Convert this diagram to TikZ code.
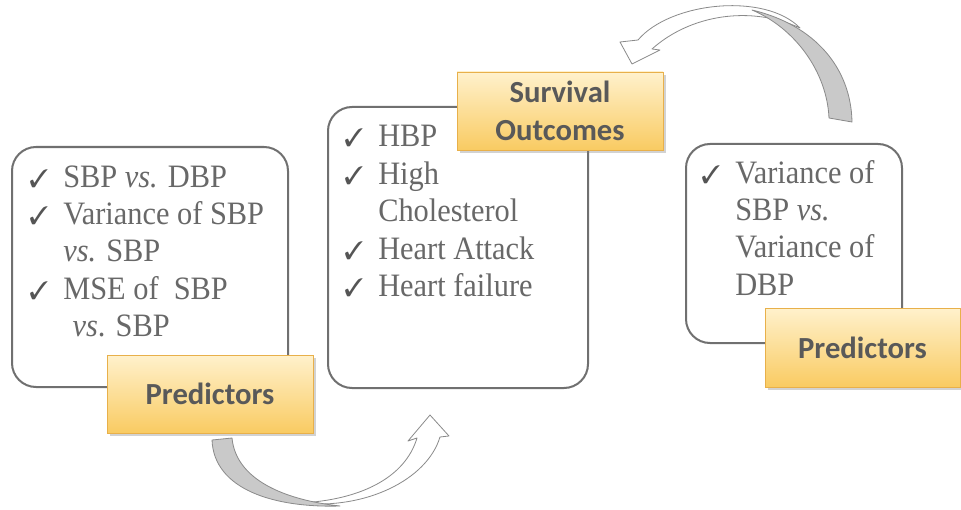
\documentclass[tikz,border=0pt]{standalone}
\usepackage{fontspec}
\usepackage{pifont}
\setmainfont{Liberation Serif}
\newfontfamily\bodyfont{Liberation Serif}[FakeStretch=0.93]
\newfontfamily\labelfont{Carlito}
\usetikzlibrary{shadows}

\definecolor{panelline}{HTML}{707070}
\definecolor{bodygray}{HTML}{686868}
\definecolor{tickgray}{HTML}{555555}
\definecolor{labeltext}{HTML}{595959}
\definecolor{tagtop}{HTML}{FFF1CC}
\definecolor{tagbottom}{HTML}{F9CB62}
\definecolor{tagline}{HTML}{E8B04A}
\definecolor{shadegray}{HTML}{C9C9C9}
\definecolor{arrowline}{HTML}{8A8A8A}

\newcommand{\chk}{\makebox[25.5pt][l]{\fontsize{19}{19}\selectfont\color{tickgray}\ding{51}}}
\newcommand{\nochk}{\hspace*{25.5pt}}

\begin{document}
\begin{tikzpicture}[x=0.75pt, y=-0.75pt,
	panel/.style={draw=panelline, line width=1.5pt, rounded corners=18pt, fill=white},
	tag/.style={draw=tagline, line width=0.6pt, top color=tagtop, bottom color=tagbottom,
		drop shadow={shadow xshift=2pt, shadow yshift=-2pt, opacity=0.35},
		inner sep=0pt, align=center, text=labeltext,
		font=\labelfont\bfseries\fontsize{23}{28.5}\selectfont},
	items/.style={anchor=base west, inner sep=0pt, text=bodygray, font=\bodyfont\fontsize{24.5}{28.1}\selectfont},
	arrowband/.style={fill=white, draw=arrowline, line width=0.6pt, line join=round},
	arrowshade/.style={fill=shadegray, draw=arrowline, line width=0.6pt, line join=round}]
	\useasboundingbox[fill=white] (0,0) rectangle (961,510);

	% rounded panels
	\node (leftpanel) [panel, minimum width=207pt, minimum height=180pt] at (150,267) {};
	\node (midpanel) [panel, minimum width=195pt, minimum height=210.75pt] at (458,247.5) {};
	\node (rightpanel) [panel, minimum width=162pt, minimum height=149.25pt] at (794,243.5) {};

	\node (leftitems) [items] at (29,187) {\parbox[t]{215pt}{\raggedright
		\chk SBP \textit{vs.} DBP\\
		\chk Variance of SBP\\
		\nochk\textit{vs.} SBP\\
		\chk MSE of\ \ SBP\\
		\nochk\hspace*{7pt}\textit{vs}. SBP}};
	\node (miditems) [items] at (344,146.7) {\parbox[t]{190pt}{\raggedright
		\chk HBP\\
		\chk High\\
		\nochk Cholesterol\\
		\chk Heart Attack\\
		\chk Heart failure}};
	\node (rightitems) [items] at (701,183) {\parbox[t]{160pt}{\raggedright
		\chk Variance of\\
		\nochk SBP \textit{vs.}\\
		\nochk Variance of\\
		\nochk DBP}};

	% yellow tags
	\node (leftpred) [tag, minimum width=154.5pt, minimum height=58.5pt] at (210,394) {Predictors};
	\node (outcomes) [tag, minimum width=154.5pt, minimum height=58.5pt] at (560,111) {Survival\\Outcomes};
	\node (rightpred) [tag, minimum width=146.25pt, minimum height=59.25pt] at (862.5,347.5) {Predictors};

	% curved block arrows
	\draw[arrowband] (300,503) .. controls (365,510) and (427,480) .. (440,437) -- (449,436) -- (430,415)
		-- (408,441) -- (417,438) .. controls (405,478) and (360,500) .. (300,503) -- cycle;
	\draw[arrowshade] (212,440) .. controls (214,490) and (275,508) .. (340,506)
		.. controls (285,500) and (236,480) .. (232,438) -- cycle;
	\draw[arrowband] (800,28) .. controls (765,-8) and (670,2) .. (638,40) -- (620,42) -- (632,64)
		-- (660,50) -- (652,49) .. controls (690,15) and (750,5) .. (800,28) -- cycle;
	\draw[arrowshade] (852,122) .. controls (851,68) and (815,25) .. (752,10)
		.. controls (795,28) and (827,72) .. (829,118) -- cycle;
\end{tikzpicture}
\end{document}
